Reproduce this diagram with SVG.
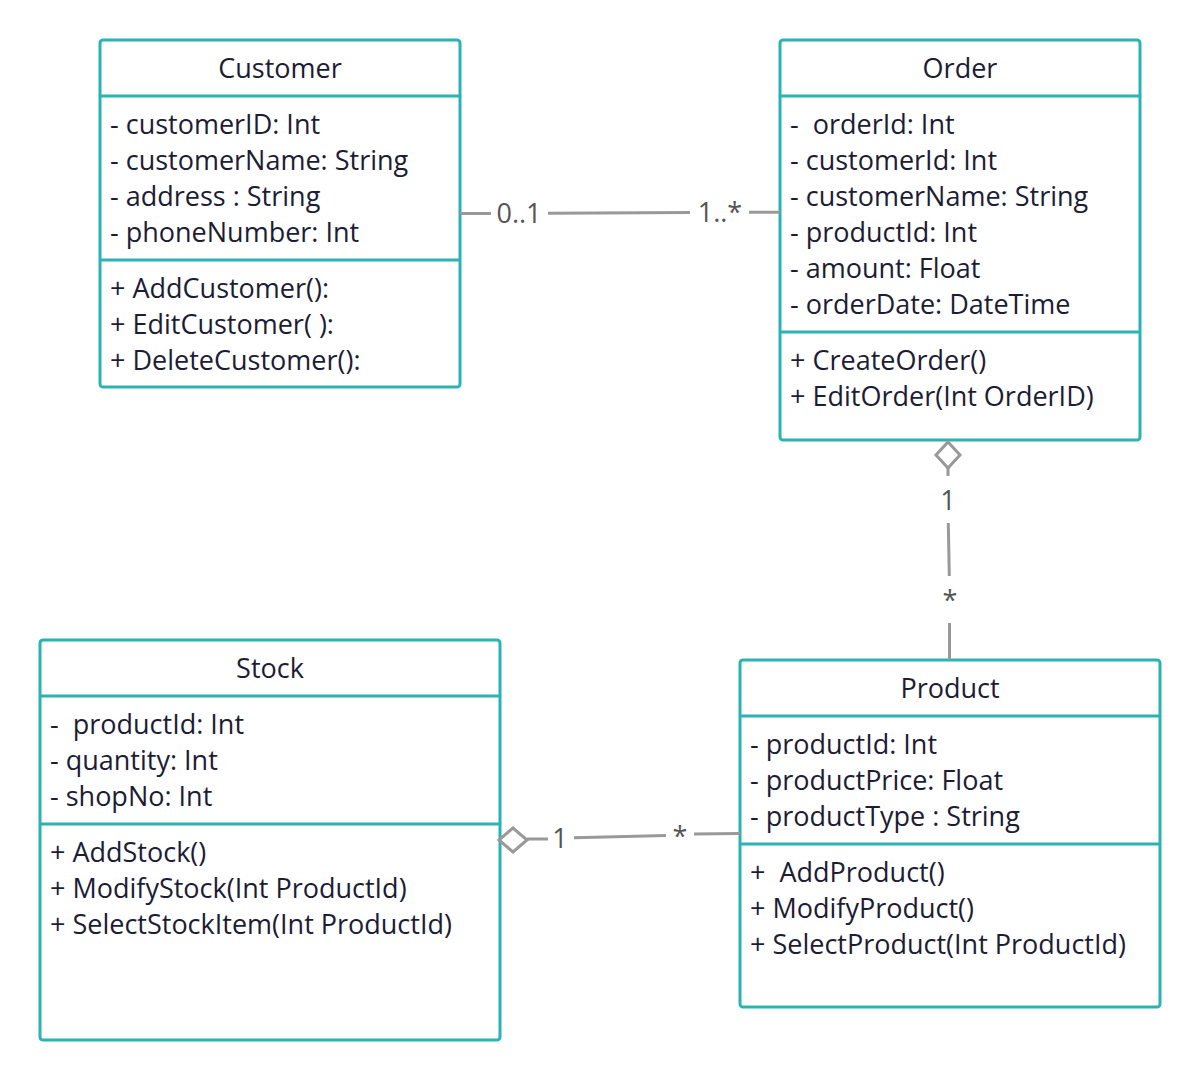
<svg xmlns="http://www.w3.org/2000/svg" width="1200" height="1080" viewBox="0 0 1200 1080">
<style>
.box{fill:#fff;stroke:#2bb3b1;stroke-width:3}
.div{stroke:#2bb3b1;stroke-width:3}
text{font-family:"Open Sans","Noto Sans","Liberation Sans",sans-serif;font-size:27px;fill:#1c1c35;white-space:pre}
.t{text-anchor:middle}
.conn{stroke:#999;stroke-width:3;fill:none}
.lbl{fill:#555;text-anchor:middle}
.dia{fill:#fff;stroke:#999;stroke-width:3}
</style>
<rect width="1200" height="1080" fill="#fff"/>
<g id="customer">
<rect class="box" x="100" y="40" width="360" height="347" rx="3"/>
<line class="div" x1="100" y1="96" x2="460" y2="96"/>
<line class="div" x1="100" y1="260" x2="460" y2="260"/>
<text class="t" x="280" y="78">Customer</text>
<text x="110" y="134">- customerID: Int</text>
<text x="110" y="170">- customerName: String</text>
<text x="110" y="206">- address : String</text>
<text x="110" y="242">- phoneNumber: Int</text>
<text x="110" y="298">+ AddCustomer():</text>
<text x="110" y="334">+ EditCustomer( ):</text>
<text x="110" y="370">+ DeleteCustomer():</text>
</g>
<g id="order">
<rect class="box" x="780" y="40" width="360" height="400" rx="3"/>
<line class="div" x1="780" y1="96" x2="1140" y2="96"/>
<line class="div" x1="780" y1="332" x2="1140" y2="332"/>
<text class="t" x="960" y="78">Order</text>
<text x="790" y="134">-  orderId: Int</text>
<text x="790" y="170">- customerId: Int</text>
<text x="790" y="206">- customerName: String</text>
<text x="790" y="242">- productId: Int</text>
<text x="790" y="278">- amount: Float</text>
<text x="790" y="314">- orderDate: DateTime</text>
<text x="790" y="370">+ CreateOrder()</text>
<text x="790" y="406">+ EditOrder(Int OrderID)</text>
</g>
<g id="stock">
<rect class="box" x="40" y="640" width="460" height="400" rx="3"/>
<line class="div" x1="40" y1="696" x2="500" y2="696"/>
<line class="div" x1="40" y1="824" x2="500" y2="824"/>
<text class="t" x="270" y="678">Stock</text>
<text x="50" y="734">-  productId: Int</text>
<text x="50" y="770">- quantity: Int</text>
<text x="50" y="806">- shopNo: Int</text>
<text x="50" y="862">+ AddStock()</text>
<text x="50" y="898">+ ModifyStock(Int ProductId)</text>
<text x="50" y="934">+ SelectStockItem(Int ProductId)</text>
</g>
<g id="product">
<rect class="box" x="740" y="660" width="420" height="347" rx="3"/>
<line class="div" x1="740" y1="716" x2="1160" y2="716"/>
<line class="div" x1="740" y1="844" x2="1160" y2="844"/>
<text class="t" x="950" y="698">Product</text>
<text x="750" y="754">- productId: Int</text>
<text x="750" y="790">- productPrice: Float</text>
<text x="750" y="826">- productType : String</text>
<text x="750" y="882">+  AddProduct()</text>
<text x="750" y="918">+ ModifyProduct()</text>
<text x="750" y="954">+ SelectProduct(Int ProductId)</text>
</g>
<g id="connectors">
<path class="conn" d="M460 213.5H491M548 213.3L690 212.5M749 212.3H780"/>
<text class="lbl" x="519" y="223">0..1</text>
<text class="lbl" x="720" y="222">1..*</text>
<path class="conn" d="M948 466V476M948.3 523L949.3 576M949.5 623V660"/>
<path class="dia" d="M948 442L960 455L948 468L936 455Z"/>
<text class="lbl" x="948" y="510">1</text>
<text class="lbl" x="950" y="610">*</text>
<path class="conn" d="M527 839H548M574 837.8L666 835.5M694 834L740 833.5"/>
<path class="dia" d="M499 840L513 828L527 840L513 852Z"/>
<text class="lbl" x="560" y="848">1</text>
<text class="lbl" x="680" y="846">*</text>
</g>
</svg>
